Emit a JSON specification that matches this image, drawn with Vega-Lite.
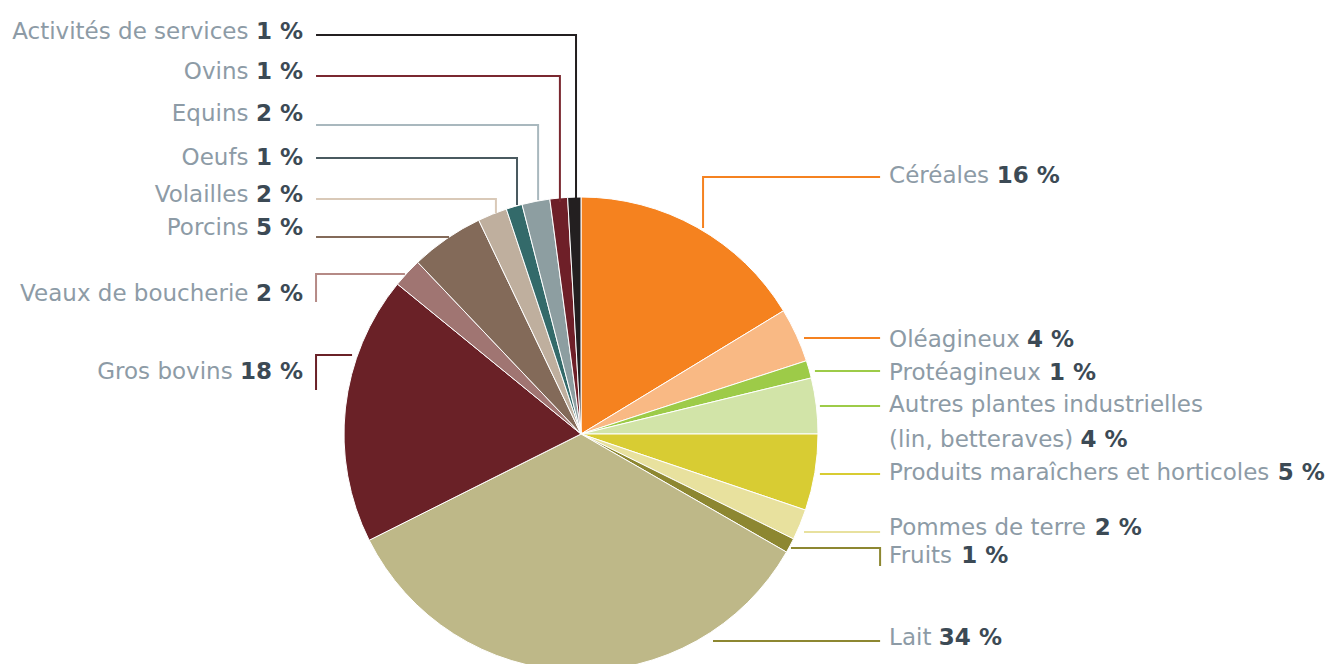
{
  "$schema": "https://vega.github.io/schema/vega-lite/v6.json",
  "width": 1162,
  "height": 460,
  "autosize": {"type": "none"},
  "padding": {"left": 0, "top": 204, "right": 174, "bottom": 0},
  "background": "white",
  "config": {"view": {"stroke": null}},
  "datasets": {
    "slices": [
      {"cat": "Céréales", "order": 1, "value": 16.3},
      {"cat": "Oléagineux", "order": 2, "value": 3.7},
      {"cat": "Protéagineux", "order": 3, "value": 1.2},
      {"cat": "Autres plantes industrielles (lin, betteraves)", "order": 4, "value": 3.8},
      {"cat": "Produits maraîchers et horticoles", "order": 5, "value": 5.2},
      {"cat": "Pommes de terre", "order": 6, "value": 2.1},
      {"cat": "Fruits", "order": 7, "value": 1.0},
      {"cat": "Lait", "order": 8, "value": 34.3},
      {"cat": "Gros bovins", "order": 9, "value": 18.3},
      {"cat": "Veaux de boucherie", "order": 10, "value": 2.0},
      {"cat": "Porcins", "order": 11, "value": 5.0},
      {"cat": "Volailles", "order": 12, "value": 2.0},
      {"cat": "Oeufs", "order": 13, "value": 1.1},
      {"cat": "Equins", "order": 14, "value": 1.9},
      {"cat": "Ovins", "order": 15, "value": 1.2},
      {"cat": "Activités de services", "order": 16, "value": 0.9}
    ],
    "leaders": [
      {"cat": "Activités de services", "seq": 1, "lx": -111.8, "ly": 168.4},
      {"cat": "Activités de services", "seq": 2, "lx": -2.1, "ly": 168.4},
      {"cat": "Activités de services", "seq": 3, "lx": -2.1, "ly": 99.6},
      {"cat": "Ovins", "seq": 1, "lx": -111.8, "ly": 151.1},
      {"cat": "Ovins", "seq": 2, "lx": -8.9, "ly": 151.1},
      {"cat": "Ovins", "seq": 3, "lx": -8.9, "ly": 97.9},
      {"cat": "Equins", "seq": 1, "lx": -111.8, "ly": 130.4},
      {"cat": "Equins", "seq": 2, "lx": -18.1, "ly": 130.4},
      {"cat": "Equins", "seq": 3, "lx": -18.1, "ly": 98.7},
      {"cat": "Oeufs", "seq": 1, "lx": -111.8, "ly": 116.5},
      {"cat": "Oeufs", "seq": 2, "lx": -27.0, "ly": 116.5},
      {"cat": "Oeufs", "seq": 3, "lx": -27.0, "ly": 96.6},
      {"cat": "Volailles", "seq": 1, "lx": -111.8, "ly": 99.2},
      {"cat": "Volailles", "seq": 2, "lx": -35.9, "ly": 99.2},
      {"cat": "Volailles", "seq": 3, "lx": -35.9, "ly": 93.2},
      {"cat": "Porcins", "seq": 1, "lx": -111.8, "ly": 83.1},
      {"cat": "Porcins", "seq": 2, "lx": -55.7, "ly": 83.1},
      {"cat": "Veaux de boucherie", "seq": 1, "lx": -111.8, "ly": 55.7},
      {"cat": "Veaux de boucherie", "seq": 2, "lx": -111.8, "ly": 67.5},
      {"cat": "Veaux de boucherie", "seq": 3, "lx": -74.3, "ly": 67.5},
      {"cat": "Gros bovins", "seq": 1, "lx": -111.8, "ly": 18.6},
      {"cat": "Gros bovins", "seq": 2, "lx": -111.8, "ly": 33.3},
      {"cat": "Gros bovins", "seq": 3, "lx": -96.6, "ly": 33.3},
      {"cat": "Céréales", "seq": 1, "lx": 126.2, "ly": 108.4},
      {"cat": "Céréales", "seq": 2, "lx": 51.5, "ly": 108.4},
      {"cat": "Céréales", "seq": 3, "lx": 51.5, "ly": 86.9},
      {"cat": "Oléagineux", "seq": 1, "lx": 94.1, "ly": 40.5},
      {"cat": "Oléagineux", "seq": 2, "lx": 126.2, "ly": 40.5},
      {"cat": "Protéagineux", "seq": 1, "lx": 98.7, "ly": 26.6},
      {"cat": "Protéagineux", "seq": 2, "lx": 126.2, "ly": 26.6},
      {"cat": "Autres plantes industrielles (lin, betteraves)", "seq": 1, "lx": 100.8, "ly": 11.8},
      {"cat": "Autres plantes industrielles (lin, betteraves)", "seq": 2, "lx": 126.2, "ly": 11.8},
      {"cat": "Produits maraîchers et horticoles", "seq": 1, "lx": 100.8, "ly": -16.9},
      {"cat": "Produits maraîchers et horticoles", "seq": 2, "lx": 126.2, "ly": -16.9},
      {"cat": "Pommes de terre", "seq": 1, "lx": 94.1, "ly": -41.4},
      {"cat": "Pommes de terre", "seq": 2, "lx": 126.2, "ly": -41.4},
      {"cat": "Fruits", "seq": 1, "lx": 88.6, "ly": -48.1},
      {"cat": "Fruits", "seq": 2, "lx": 126.2, "ly": -48.1},
      {"cat": "Fruits", "seq": 3, "lx": 126.2, "ly": -55.7},
      {"cat": "Lait", "seq": 1, "lx": 55.7, "ly": -87.3},
      {"cat": "Lait", "seq": 2, "lx": 126.2, "ly": -87.3}
    ],
    "labels": [
      {"cat": "Activités de services", "name": "Activités de services", "pct": 1, "side": "L", "nx": -140.3, "px": -117.3, "ny": 166.7, "py": 166.7},
      {"cat": "Ovins", "name": "Ovins", "pct": 1, "side": "L", "nx": -140.3, "px": -117.3, "ny": 149.8, "py": 149.8},
      {"cat": "Equins", "name": "Equins", "pct": 2, "side": "L", "nx": -140.3, "px": -117.3, "ny": 132.1, "py": 132.1},
      {"cat": "Oeufs", "name": "Oeufs", "pct": 1, "side": "L", "nx": -140.3, "px": -117.3, "ny": 113.5, "py": 113.5},
      {"cat": "Volailles", "name": "Volailles", "pct": 2, "side": "L", "nx": -140.3, "px": -117.3, "ny": 98.1, "py": 98.1},
      {"cat": "Porcins", "name": "Porcins", "pct": 5, "side": "L", "nx": -140.3, "px": -117.3, "ny": 84.0, "py": 84.0},
      {"cat": "Veaux de boucherie", "name": "Veaux de boucherie", "pct": 2, "side": "L", "nx": -140.3, "px": -117.3, "ny": 56.3, "py": 56.3},
      {"cat": "Gros bovins", "name": "Gros bovins", "pct": 18, "side": "L", "nx": -147.0, "px": -117.3, "ny": 23.2, "py": 23.2},
      {"cat": "Céréales", "name": "Céréales", "pct": 16, "side": "R", "nx": 130.0, "px": 175.4, "ny": 105.9, "py": 105.9},
      {"cat": "Oléagineux", "name": "Oléagineux", "pct": 4, "side": "R", "nx": 130.0, "px": 188.2, "ny": 36.7, "py": 36.7},
      {"cat": "Protéagineux", "name": "Protéagineux", "pct": 1, "side": "R", "nx": 130.0, "px": 197.5, "ny": 22.8, "py": 22.8},
      {"cat": "Autres plantes industrielles (lin, betteraves)", "name": "Autres plantes industrielles\n(lin, betteraves)", "pct": 4, "side": "R", "nx": 130.0, "px": 210.8, "ny": 9.3, "py": -5.5},
      {"cat": "Produits maraîchers et horticoles", "name": "Produits maraîchers et horticoles", "pct": 5, "side": "R", "nx": 130.0, "px": 294.0, "ny": -19.4, "py": -19.4},
      {"cat": "Pommes de terre", "name": "Pommes de terre", "pct": 2, "side": "R", "nx": 130.0, "px": 216.8, "ny": -42.6, "py": -42.6},
      {"cat": "Fruits", "name": "Fruits", "pct": 1, "side": "R", "nx": 130.0, "px": 160.4, "ny": -54.4, "py": -54.4},
      {"cat": "Lait", "name": "Lait", "pct": 34, "side": "R", "nx": 130.0, "px": 151.0, "ny": -89.0, "py": -89.0}
    ]
  },
  "layer": [
    {
      "data": {"name": "slices"},
      "mark": {"type": "arc", "outerRadius": 237, "stroke": "white", "strokeWidth": 1},
      "encoding": {
        "theta": {"field": "value", "type": "quantitative", "stack": true},
        "order": {"field": "order", "type": "quantitative"},
        "color": {
          "field": "cat", "type": "nominal", "legend": null,
          "scale": {
            "domain": ["Céréales", "Oléagineux", "Protéagineux", "Autres plantes industrielles (lin, betteraves)", "Produits maraîchers et horticoles", "Pommes de terre", "Fruits", "Lait", "Gros bovins", "Veaux de boucherie", "Porcins", "Volailles", "Oeufs", "Equins", "Ovins", "Activités de services"],
            "range": ["#F5821F", "#F9B984", "#9DCB48", "#D2E4A8", "#D8CC33", "#E8E19E", "#8D8731", "#BEB888", "#6A2127", "#A07572", "#836A59", "#BFAF9E", "#336A6A", "#8D9EA1", "#6E1F28", "#231F20"]
          }
        }
      }
    },
    {
      "data": {"name": "leaders"},
      "mark": {"type": "line", "strokeWidth": 2, "strokeJoin": "miter", "strokeCap": "butt"},
      "encoding": {
        "x": {"field": "lx", "type": "quantitative", "axis": null, "scale": {"domain": [-245.15, 245.15], "nice": false, "zero": false}},
        "y": {"field": "ly", "type": "quantitative", "axis": null, "scale": {"domain": [-97.05, 97.05], "nice": false, "zero": false}},
        "order": {"field": "seq", "type": "quantitative"},
        "stroke": {
          "field": "cat", "type": "nominal", "legend": null,
          "scale": {
            "domain": ["Céréales", "Oléagineux", "Protéagineux", "Autres plantes industrielles (lin, betteraves)", "Produits maraîchers et horticoles", "Pommes de terre", "Fruits", "Lait", "Gros bovins", "Veaux de boucherie", "Porcins", "Volailles", "Oeufs", "Equins", "Ovins", "Activités de services"],
            "range": ["#F58220", "#F58220", "#9DCB48", "#9DCB48", "#D8CC33", "#E8E19E", "#8D8731", "#8D8731", "#6A2127", "#B58A86", "#836A59", "#D9C9B8", "#4A5A60", "#A9B8BE", "#7A2830", "#231F20"]
          }
        }
      }
    },
    {
      "data": {"name": "labels"},
      "transform": [{"filter": "datum.side === 'L'"}],
      "mark": {"type": "text", "align": "right", "baseline": "alphabetic", "font": "DejaVu Sans", "fontSize": 23, "fill": "#8D9BA6"},
      "encoding": {
        "x": {"field": "nx", "type": "quantitative"},
        "y": {"field": "ny", "type": "quantitative"},
        "text": {"field": "name", "type": "nominal"}
      }
    },
    {
      "data": {"name": "labels"},
      "transform": [
        {"filter": "datum.side === 'L'"},
        {"calculate": "datum.pct + ' %'", "as": "pctText"}
      ],
      "mark": {"type": "text", "align": "right", "baseline": "alphabetic", "font": "DejaVu Sans", "fontSize": 23, "fontWeight": "bold", "fill": "#3C4A55"},
      "encoding": {
        "x": {"field": "px", "type": "quantitative"},
        "y": {"field": "py", "type": "quantitative"},
        "text": {"field": "pctText", "type": "nominal"}
      }
    },
    {
      "data": {"name": "labels"},
      "transform": [{"filter": "datum.side === 'R'"}],
      "mark": {"type": "text", "align": "left", "baseline": "alphabetic", "font": "DejaVu Sans", "fontSize": 23, "fill": "#8D9BA6", "lineBreak": "\n", "lineHeight": 35},
      "encoding": {
        "x": {"field": "nx", "type": "quantitative"},
        "y": {"field": "ny", "type": "quantitative"},
        "text": {"field": "name", "type": "nominal"}
      }
    },
    {
      "data": {"name": "labels"},
      "transform": [
        {"filter": "datum.side === 'R'"},
        {"calculate": "datum.pct + ' %'", "as": "pctText"}
      ],
      "mark": {"type": "text", "align": "left", "baseline": "alphabetic", "font": "DejaVu Sans", "fontSize": 23, "fontWeight": "bold", "fill": "#3C4A55"},
      "encoding": {
        "x": {"field": "px", "type": "quantitative"},
        "y": {"field": "py", "type": "quantitative"},
        "text": {"field": "pctText", "type": "nominal"}
      }
    }
  ]
}
